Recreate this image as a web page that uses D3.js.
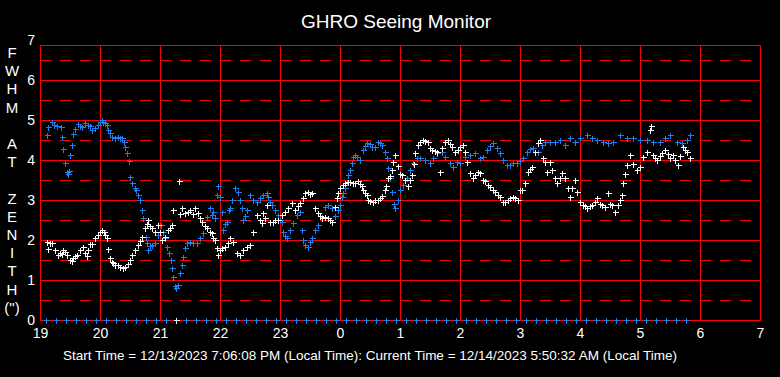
<!DOCTYPE html>
<html><head><meta charset="utf-8">
<script src="https://cdn.jsdelivr.net/npm/d3@7"></script>
<style>html,body{margin:0;padding:0;background:#000;}svg{display:block;}</style>
</head><body>
<script>
// time = minutes since 19:00 local, value = FWHM at zenith (arcsec)
const xTickLabels = ["19","20","21","22","23","0","1","2","3","4","5","6","7"];
const yTickLabels = ["0","1","2","3","4","5","6","7"];
const yAxisLetters = ["F","W","H","M","","A","T","","Z","E","N","I","T","H","(\")"];
const titleText = "GHRO Seeing Monitor";
const footerText = "Start Time = 12/13/2023 7:06:08 PM (Local Time): Current Time = 12/14/2023 5:50:32 AM (Local Time)";

const blueTime = [7,8,12,14,17,21,22,23,25,27,28,29,30,32,33,35,38,40,42,45,48,50,52,55,58,60,62,63,65,67,68,70,72,75,78,80,82,84,85,87,89,90,92,95,96,98,100,102,103,105,106,107,108,110,112,115,118,121,123,125,127,129,131,132,133,135,136,138,140,142,143,145,147,150,153,157,160,163,165,167,170,172,173,175,177,178,180,182,183,185,187,189,190,192,195,198,200,202,203,205,207,210,213,217,220,223,227,228,230,232,235,238,240,242,243,245,247,250,253,257,260,262,263,265,268,270,272,275,278,282,285,288,292,295,298,300,302,303,305,307,308,310,312,313,315,317,320,323,325,327,330,332,335,338,340,342,345,347,348,350,352,354,355,358,360,363,367,370,373,377,380,385,390,393,397,402,405,410,413,417,420,425,430,435,440,443,447,450,453,457,460,463,467,470,473,477,480,483,487,490,493,498,502,505,510,515,520,525,530,535,540,547,552,557,563,568,573,580,587,593,600,607,613,620,625,630,637,642,647,650];
const blueFwhm = [4.62,4.83,4.95,4.88,4.85,4.83,4.58,4.27,3.93,3.7,3.65,3.72,4.13,4.38,4.65,4.78,4.9,4.85,4.83,4.93,4.88,4.85,4.75,4.8,4.88,4.95,5.0,4.95,4.92,4.88,4.75,4.68,4.58,4.55,4.58,4.55,4.55,4.45,4.33,4.17,3.98,3.58,3.42,3.3,3.25,3.13,3.0,2.75,2.55,2.3,2.08,1.93,1.75,1.85,1.88,1.93,2.13,2.38,2.2,2.05,1.83,1.68,1.5,1.3,1.08,0.85,0.8,0.88,1.18,1.38,1.58,1.8,1.93,1.95,1.93,1.93,2.05,2.18,2.35,2.58,2.8,2.63,2.7,2.55,3.13,3.35,3.08,2.7,2.25,2.4,2.45,2.75,2.8,3.0,3.3,3.2,3.0,2.8,2.5,2.6,2.75,3.13,3.0,2.95,3.05,3.13,3.18,3.08,2.95,2.88,2.75,2.63,2.5,2.45,2.2,2.1,2.05,2.25,2.43,2.63,2.7,2.25,2.0,1.88,1.83,1.95,2.05,2.25,2.38,2.58,2.83,2.88,2.8,2.6,2.75,2.88,3.08,3.18,3.3,3.45,3.63,3.75,3.93,4.08,4.13,4.08,4.0,4.25,4.35,4.43,4.4,4.33,4.33,4.45,4.42,4.38,4.2,4.05,3.8,3.55,3.2,2.9,2.8,3.0,3.25,3.38,3.55,3.75,3.93,4.05,4.05,4.0,3.93,4.05,4.18,4.2,4.08,3.93,3.83,3.95,3.93,4.08,4.13,4.18,4.05,4.08,4.25,4.35,4.43,4.3,4.18,4.0,3.88,3.88,3.93,3.93,3.98,4.05,4.2,4.28,4.3,4.2,4.38,4.45,4.45,4.45,4.5,4.38,4.55,4.45,4.55,4.63,4.55,4.5,4.45,4.43,4.45,4.63,4.55,4.55,4.5,4.5,4.45,4.45,4.55,4.63,4.45,4.43,4.5,4.63];

const whiteTime = [7,8,10,12,15,18,20,22,23,25,27,30,32,33,35,37,40,43,45,47,48,50,52,55,58,60,62,64,65,67,68,70,72,73,75,78,80,83,85,88,90,92,95,98,100,102,105,107,108,110,112,115,118,120,122,125,128,130,132,133,136,139,140,142,145,148,150,153,155,158,160,162,165,167,170,172,173,175,177,178,180,182,185,188,190,193,197,200,203,207,210,213,217,220,222,223,225,227,230,233,235,238,242,245,248,252,255,258,260,263,265,268,270,272,275,278,280,282,285,288,290,292,295,297,298,300,303,305,308,310,313,315,318,320,322,323,325,327,328,330,333,335,338,340,342,345,346,348,350,352,353,355,358,360,362,365,368,370,372,374,375,378,380,383,385,388,390,392,395,397,400,402,405,408,410,412,415,418,420,423,425,427,430,433,435,438,440,443,445,448,450,453,455,458,460,463,465,468,470,473,475,478,480,482,485,488,490,492,495,498,500,503,505,507,510,512,515,517,520,522,525,528,530,532,535,537,540,543,545,547,550,552,555,557,560,562,565,568,570,572,575,578,580,582,583,585,587,590,593,597,600,603,607,610,611,613,615,617,620,622,625,628,630,633,635,638,640,643,645,647,650];
const whiteFwhm = [1.95,1.78,1.93,1.93,1.75,1.63,1.68,1.65,1.75,1.7,1.63,1.5,1.48,1.55,1.6,1.63,1.75,1.83,1.68,1.6,1.75,1.9,1.9,2.05,2.13,2.2,2.25,2.2,2.13,2.05,1.78,1.55,1.45,1.43,1.38,1.37,1.33,1.3,1.33,1.4,1.5,1.63,1.75,1.88,1.98,2.08,2.3,2.4,2.5,2.35,2.3,2.2,2.38,2.2,2.0,2.08,2.25,2.3,2.38,2.75,0,3.48,2.65,2.8,2.68,2.7,2.75,2.65,2.8,2.68,2.55,2.45,2.35,2.3,2.2,2.18,2.05,2.0,1.8,1.63,1.75,1.8,1.83,1.93,2.05,1.95,1.68,1.63,1.75,1.83,1.88,2.2,2.63,2.5,2.43,2.68,2.55,2.88,2.45,2.45,2.5,2.5,2.63,2.7,2.8,2.93,2.75,2.85,2.93,3.05,3.18,3.2,3.15,3.18,2.8,2.68,2.6,2.55,2.58,2.55,2.5,2.45,2.83,3.05,3.18,3.3,3.38,3.42,3.45,3.45,3.43,3.42,3.48,3.4,3.35,3.25,3.18,3.13,3.0,2.98,2.95,3.0,3.0,3.05,3.1,3.25,3.35,3.55,3.6,3.75,3.95,4.13,3.85,3.65,3.63,3.5,3.35,3.5,3.63,3.9,4.18,4.38,4.45,4.5,4.48,4.45,4.3,4.25,4.22,4.2,3.7,4.3,4.45,4.5,4.4,4.33,4.2,4.25,4.33,4.38,4.2,3.95,3.68,3.55,3.62,3.7,3.68,3.5,3.48,3.38,3.33,3.25,3.2,3.13,3.08,2.95,2.95,3.0,3.05,3.08,3.05,3.0,3.25,3.25,3.43,3.7,3.78,3.83,4.2,4.43,4.5,4.05,3.95,3.7,3.95,3.75,3.55,3.43,3.55,3.68,3.55,3.3,3.08,3.3,3.5,3.2,2.95,2.88,2.85,2.8,2.85,2.88,2.95,3.05,2.9,2.88,2.83,3.18,2.9,2.88,2.7,2.88,3.0,3.13,3.43,3.65,3.88,4.13,3.9,3.75,3.83,4.08,4.2,4.75,4.85,4.13,4.05,4.0,4.1,4.18,4.25,4.15,4.05,4.13,4.0,3.88,4.1,4.33,4.25,4.2,4.05];

// no-data samples plotted at zero
const zeroTime = [6,16,26,36,46,56,66,76,86,96,106,116,126,146,156,166,176,186,196,206,216,226,236,246,256,266,276,286,296,306,316,326,336,346,356,366,376,386,396,406,416,426,436,446,456,466,476,486,496,506,516,526,536,546,556,566,576,586,596,606,616,626,636,646];
const zeroFwhm = zeroTime.map(() => 0);

const W = 780, H = 377;
const svg = d3.select("body").append("svg").attr("width", W).attr("height", H)
  .style("background", "#000");

const x = d3.scaleLinear().domain([0, 720]).range([40, 760]);
const y = d3.scaleLinear().domain([0, 7]).range([320, 40]);
const plotTop = 45;
const font = "'Liberation Sans', Arial, sans-serif";
const red = "#ff0000";
const blue = "rgb(30,128,240)";

// title
svg.append("text").attr("x", 396).attr("y", 28).attr("text-anchor", "middle")
  .attr("fill", "#fff").style("font-family", font).style("font-size", "19px").text(titleText);

// grid
const g = svg.append("g").attr("shape-rendering", "crispEdges");
const halfTicks = d3.range(0.5, 7, 1);
g.selectAll(".dash").data(halfTicks).join("line")
  .attr("x1", x(0)).attr("x2", x(720)).attr("y1", d => y(d) + 0.5).attr("y2", d => y(d) + 0.5)
  .attr("stroke", red).attr("stroke-width", 1).attr("stroke-dasharray", "11,9");
g.selectAll(".hline").data(d3.range(1, 7)).join("line")
  .attr("x1", x(0)).attr("x2", x(720)).attr("y1", d => y(d) + 0.5).attr("y2", d => y(d) + 0.5)
  .attr("stroke", red).attr("stroke-width", 1);
const xTicks = d3.range(0, 721, 60);
g.selectAll(".vline").data(xTicks.slice(1, -1)).join("line")
  .attr("x1", d => x(d) + 0.5).attr("x2", d => x(d) + 0.5).attr("y1", plotTop).attr("y2", y(0))
  .attr("stroke", red).attr("stroke-width", 1);
g.append("rect").attr("x", x(0) + 0.5).attr("y", plotTop + 0.5)
  .attr("width", x(720) - x(0)).attr("height", y(0) - plotTop)
  .attr("fill", "none").attr("stroke", red).attr("stroke-width", 1);

// axes via d3 axis generators
const xAxis = d3.axisBottom(x).tickValues(xTicks).tickFormat((d, i) => xTickLabels[i]).tickSize(0).tickPadding(8);
const xa = svg.append("g").attr("transform", `translate(0,${y(0)})`).call(xAxis);
const yAxis = d3.axisLeft(y).tickValues(d3.range(0, 8)).tickFormat((d, i) => yTickLabels[i]).tickSize(0).tickPadding(5);
const ya = svg.append("g").attr("transform", `translate(${x(0)},0)`).call(yAxis);
[xa, ya].forEach(a => {
  a.select(".domain").remove();
  a.selectAll("text").attr("fill", "#fff").style("font-family", font).style("font-size", "14px");
});

// vertical y-axis title letters
svg.append("g").selectAll("text").data(yAxisLetters).join("text")
  .attr("x", 12).attr("y", (d, i) => 58 + i * 18.2).attr("text-anchor", "middle")
  .attr("fill", "#fff").style("font-family", font).style("font-size", "15px").text(d => d);

// footer
svg.append("text").attr("x", 370).attr("y", 360).attr("text-anchor", "middle")
  .attr("fill", "#fff").style("font-family", font).style("font-size", "13.5px").text(footerText);

// markers
const cross = "M-3,0H3M0,-3V3";
function plotSeries(times, vals, color) {
  svg.append("g").selectAll("path").data(times.map((t, i) => [t, vals[i]])).join("path")
    .attr("d", cross)
    .attr("transform", d => `translate(${Math.round(x(d[0])) + 0.5},${Math.round(y(d[1])) + 0.5})`)
    .attr("stroke", color).attr("stroke-width", 1).attr("fill", "none")
    .attr("shape-rendering", "crispEdges");
}
plotSeries(zeroTime, zeroFwhm, blue);
plotSeries(blueTime, blueFwhm, blue);
plotSeries(whiteTime, whiteFwhm, "#fff");
</script>
</body></html>
